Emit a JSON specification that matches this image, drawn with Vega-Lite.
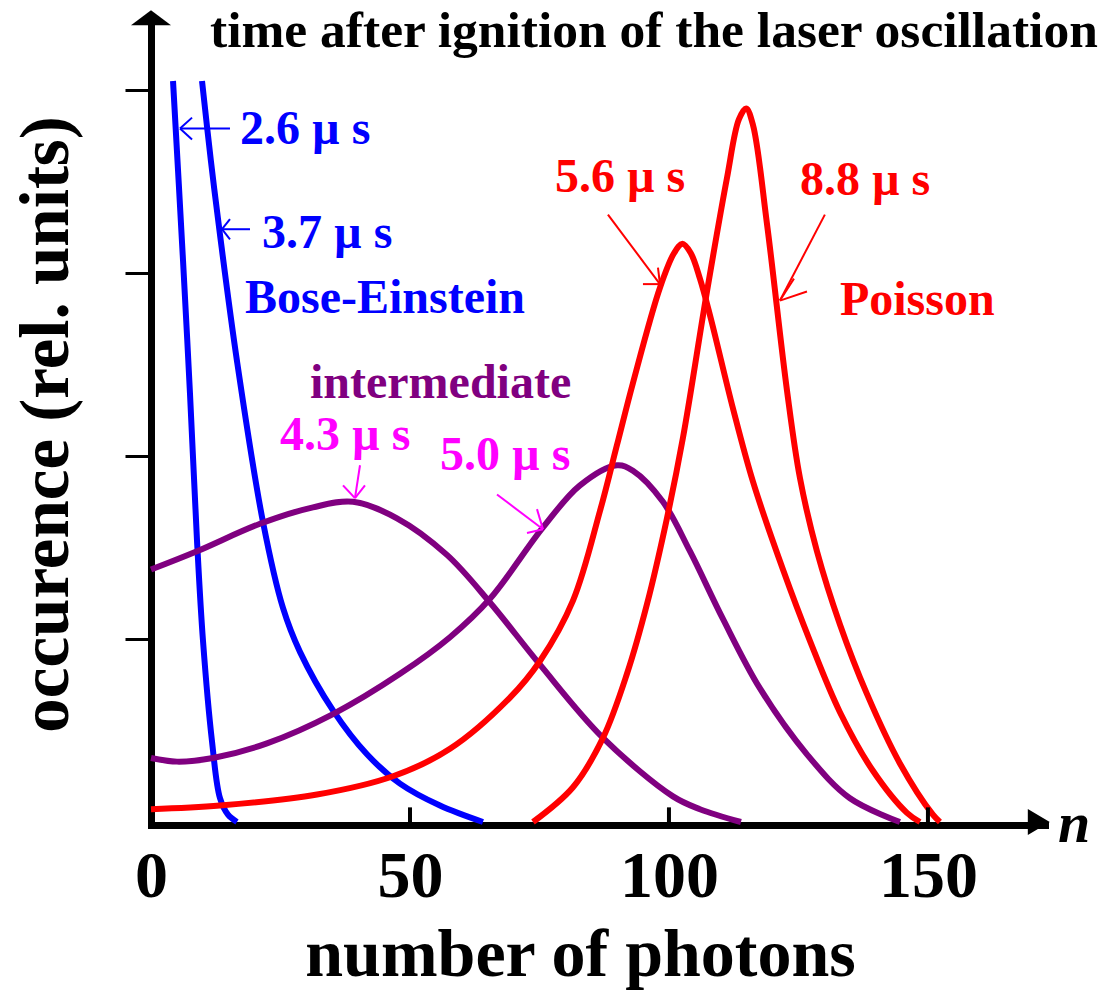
{
  "$schema": "https://vega.github.io/schema/vega-lite/v6.json",
  "width": 894,
  "height": 805,
  "autosize": "none",
  "padding": {"left": 151, "top": 17, "right": 65, "bottom": 171},
  "background": "white",
  "config": {"view": {"stroke": null}, "font": "Liberation Serif"},
  "datasets": {
    "curves": [
      {"series": "b1", "group": "be", "n": 4.25, "v": 4.05},
      {"series": "b1", "group": "be", "n": 6.18, "v": 3.07},
      {"series": "b1", "group": "be", "n": 7.53, "v": 2.34},
      {"series": "b1", "group": "be", "n": 8.88, "v": 1.54},
      {"series": "b1", "group": "be", "n": 10.04, "v": 0.99},
      {"series": "b1", "group": "be", "n": 11.78, "v": 0.44},
      {"series": "b1", "group": "be", "n": 13.32, "v": 0.13},
      {"series": "b1", "group": "be", "n": 14.86, "v": 0.04},
      {"series": "b1", "group": "be", "n": 16.6, "v": 0},
      {"series": "b2", "group": "be", "n": 9.85, "v": 4.05},
      {"series": "b2", "group": "be", "n": 11.58, "v": 3.61},
      {"series": "b2", "group": "be", "n": 13.32, "v": 3.21},
      {"series": "b2", "group": "be", "n": 16.6, "v": 2.52},
      {"series": "b2", "group": "be", "n": 21.62, "v": 1.64},
      {"series": "b2", "group": "be", "n": 25.48, "v": 1.17},
      {"series": "b2", "group": "be", "n": 28.76, "v": 0.93},
      {"series": "b2", "group": "be", "n": 35.14, "v": 0.61},
      {"series": "b2", "group": "be", "n": 41.7, "v": 0.37},
      {"series": "b2", "group": "be", "n": 48.07, "v": 0.21},
      {"series": "b2", "group": "be", "n": 55.79, "v": 0.09},
      {"series": "b2", "group": "be", "n": 64.09, "v": 0},
      {"series": "p1", "group": "int", "n": 0, "v": 1.38},
      {"series": "p1", "group": "int", "n": 8.88, "v": 1.48},
      {"series": "p1", "group": "int", "n": 21.04, "v": 1.63},
      {"series": "p1", "group": "int", "n": 31.27, "v": 1.72},
      {"series": "p1", "group": "int", "n": 39.0, "v": 1.75},
      {"series": "p1", "group": "int", "n": 47.49, "v": 1.66},
      {"series": "p1", "group": "int", "n": 57.14, "v": 1.46},
      {"series": "p1", "group": "int", "n": 65.44, "v": 1.2},
      {"series": "p1", "group": "int", "n": 75.1, "v": 0.86},
      {"series": "p1", "group": "int", "n": 87.26, "v": 0.46},
      {"series": "p1", "group": "int", "n": 100.77, "v": 0.14},
      {"series": "p1", "group": "int", "n": 105.98, "v": 0.07},
      {"series": "p1", "group": "int", "n": 113.9, "v": 0},
      {"series": "p2", "group": "int", "n": 0, "v": 0.35},
      {"series": "p2", "group": "int", "n": 5.02, "v": 0.33},
      {"series": "p2", "group": "int", "n": 11.97, "v": 0.35},
      {"series": "p2", "group": "int", "n": 22.39, "v": 0.43},
      {"series": "p2", "group": "int", "n": 35.14, "v": 0.59},
      {"series": "p2", "group": "int", "n": 48.07, "v": 0.81},
      {"series": "p2", "group": "int", "n": 57.72, "v": 1.01},
      {"series": "p2", "group": "int", "n": 65.44, "v": 1.22},
      {"series": "p2", "group": "int", "n": 75.68, "v": 1.61},
      {"series": "p2", "group": "int", "n": 82.82, "v": 1.84},
      {"series": "p2", "group": "int", "n": 89.96, "v": 1.95},
      {"series": "p2", "group": "int", "n": 93.05, "v": 1.92},
      {"series": "p2", "group": "int", "n": 98.84, "v": 1.75},
      {"series": "p2", "group": "int", "n": 104.05, "v": 1.48},
      {"series": "p2", "group": "int", "n": 110.42, "v": 1.11},
      {"series": "p2", "group": "int", "n": 117.57, "v": 0.73},
      {"series": "p2", "group": "int", "n": 126.64, "v": 0.37},
      {"series": "p2", "group": "int", "n": 134.94, "v": 0.13},
      {"series": "p2", "group": "int", "n": 144.59, "v": 0},
      {"series": "r1", "group": "poi", "n": 0, "v": 0.07},
      {"series": "r1", "group": "poi", "n": 13.32, "v": 0.09},
      {"series": "r1", "group": "poi", "n": 32.05, "v": 0.15},
      {"series": "r1", "group": "poi", "n": 46.72, "v": 0.25},
      {"series": "r1", "group": "poi", "n": 57.72, "v": 0.4},
      {"series": "r1", "group": "poi", "n": 69.31, "v": 0.68},
      {"series": "r1", "group": "poi", "n": 75.1, "v": 0.88},
      {"series": "r1", "group": "poi", "n": 81.47, "v": 1.21},
      {"series": "r1", "group": "poi", "n": 86.68, "v": 1.7},
      {"series": "r1", "group": "poi", "n": 89.96, "v": 2.06},
      {"series": "r1", "group": "poi", "n": 93.05, "v": 2.4},
      {"series": "r1", "group": "poi", "n": 98.26, "v": 2.92},
      {"series": "r1", "group": "poi", "n": 101.0, "v": 3.11},
      {"series": "r1", "group": "poi", "n": 102.6, "v": 3.16},
      {"series": "r1", "group": "poi", "n": 104.2, "v": 3.11},
      {"series": "r1", "group": "poi", "n": 105.98, "v": 2.97},
      {"series": "r1", "group": "poi", "n": 107.92, "v": 2.77},
      {"series": "r1", "group": "poi", "n": 112.36, "v": 2.26},
      {"series": "r1", "group": "poi", "n": 116.22, "v": 1.86},
      {"series": "r1", "group": "poi", "n": 122.01, "v": 1.38},
      {"series": "r1", "group": "poi", "n": 127.22, "v": 0.99},
      {"series": "r1", "group": "poi", "n": 133.01, "v": 0.6},
      {"series": "r1", "group": "poi", "n": 139.38, "v": 0.28},
      {"series": "r1", "group": "poi", "n": 145.95, "v": 0.05},
      {"series": "r1", "group": "poi", "n": 148.46, "v": 0},
      {"series": "r2", "group": "poi", "n": 73.75, "v": 0},
      {"series": "r2", "group": "poi", "n": 81.47, "v": 0.19},
      {"series": "r2", "group": "poi", "n": 87.26, "v": 0.46},
      {"series": "r2", "group": "poi", "n": 91.89, "v": 0.81},
      {"series": "r2", "group": "poi", "n": 95.75, "v": 1.19},
      {"series": "r2", "group": "poi", "n": 99.61, "v": 1.66},
      {"series": "r2", "group": "poi", "n": 102.7, "v": 2.1},
      {"series": "r2", "group": "poi", "n": 107.34, "v": 2.9},
      {"series": "r2", "group": "poi", "n": 111.2, "v": 3.52},
      {"series": "r2", "group": "poi", "n": 113.5, "v": 3.84},
      {"series": "r2", "group": "poi", "n": 114.9, "v": 3.9},
      {"series": "r2", "group": "poi", "n": 116.22, "v": 3.81},
      {"series": "r2", "group": "poi", "n": 118.92, "v": 3.27},
      {"series": "r2", "group": "poi", "n": 122.78, "v": 2.36},
      {"series": "r2", "group": "poi", "n": 125.29, "v": 1.88},
      {"series": "r2", "group": "poi", "n": 128.57, "v": 1.48},
      {"series": "r2", "group": "poi", "n": 133.01, "v": 1.08},
      {"series": "r2", "group": "poi", "n": 138.22, "v": 0.7},
      {"series": "r2", "group": "poi", "n": 144.59, "v": 0.32},
      {"series": "r2", "group": "poi", "n": 150.96, "v": 0.04},
      {"series": "r2", "group": "poi", "n": 152.32, "v": 0}
    ],
    "arrows": [
      {"group": "be", "n": 15.25, "v": 3.79, "n2": 5.6, "v2": 3.79},
      {"group": "be", "n": 5.6, "v": 3.79, "n2": 7.92, "v2": 3.85},
      {"group": "be", "n": 5.6, "v": 3.79, "n2": 7.92, "v2": 3.73},
      {"group": "be", "n": 19.11, "v": 3.24, "n2": 13.71, "v2": 3.24},
      {"group": "be", "n": 13.71, "v": 3.24, "n2": 15.25, "v2": 3.295},
      {"group": "be", "n": 13.71, "v": 3.24, "n2": 15.25, "v2": 3.185},
      {"group": "time", "n": 40.35, "v": 1.95, "n2": 39.38, "v2": 1.77},
      {"group": "time", "n": 39.38, "v": 1.77, "n2": 37.07, "v2": 1.84},
      {"group": "time", "n": 39.38, "v": 1.77, "n2": 41.31, "v2": 1.84},
      {"group": "time", "n": 66.8, "v": 1.79, "n2": 75.68, "v2": 1.6},
      {"group": "time", "n": 75.68, "v": 1.6, "n2": 74.52, "v2": 1.71},
      {"group": "time", "n": 75.68, "v": 1.6, "n2": 72.59, "v2": 1.58},
      {"group": "poi", "n": 88.22, "v": 3.32, "n2": 98.26, "v2": 2.94},
      {"group": "poi", "n": 98.26, "v": 2.94, "n2": 94.98, "v2": 2.94},
      {"group": "poi", "n": 98.26, "v": 2.94, "n2": 97.88, "v2": 3.03},
      {"group": "poi", "n": 130.1, "v": 3.32, "n2": 121.43, "v2": 2.85},
      {"group": "poi", "n": 121.43, "v": 2.85, "n2": 126.64, "v2": 2.9},
      {"group": "poi", "n": 121.43, "v": 2.85, "n2": 124.13, "v2": 2.97}
    ],
    "labels": [
      {"group": "be", "n": 17.18, "v": 3.705, "label": "2.6 µ s"},
      {"group": "be", "n": 21.43, "v": 3.137, "label": "3.7 µ s"},
      {"group": "be", "n": 18.15, "v": 2.781, "label": "Bose-Einstein"},
      {"group": "int", "n": 30.69, "v": 2.317, "label": "intermediate"},
      {"group": "time", "n": 24.9, "v": 2.033, "label": "4.3 µ s"},
      {"group": "time", "n": 55.79, "v": 1.923, "label": "5.0 µ s"},
      {"group": "poi", "n": 77.99, "v": 3.443, "label": "5.6 µ s"},
      {"group": "poi", "n": 125.29, "v": 3.426, "label": "8.8 µ s"},
      {"group": "poi", "n": 133.01, "v": 2.77, "label": "Poisson"}
    ],
    "title": [
      {"n": 11.39, "v": 4.235, "label": "time after ignition of the laser oscillation"}
    ],
    "axisname": [
      {"n": 175.1, "v": -0.11, "label": "n"}
    ],
    "xticks": [
      {"n": 50, "v": 0, "v2": 0.08},
      {"n": 100, "v": 0, "v2": 0.08},
      {"n": 150, "v": 0, "v2": 0.08}
    ],
    "yarrow": [{"n": 0, "v": 4.396}],
    "xarrow": [{"n": 171.4, "v": 0}]
  },
  "layer": [
    {
      "data": {"name": "curves"},
      "mark": {"type": "line", "strokeWidth": 6, "interpolate": "catmull-rom"},
      "encoding": {
        "x": {
          "field": "n", "type": "quantitative",
          "scale": {"domain": [0, 172.6], "nice": false, "zero": false},
          "axis": {
            "values": [0, 50, 100, 150], "format": "d",
            "ticks": false, "tickSize": 0, "grid": false,
            "domain": true, "domainColor": "black", "domainWidth": 7, "domainCap": "square",
            "offset": 3,
            "labelFont": "Liberation Serif", "labelFontWeight": "bold", "labelFontSize": 66,
            "labelColor": "black", "labelPadding": 19, "labelFlush": false, "labelOverlap": false,
            "title": "number of photons",
            "titleFont": "Liberation Serif", "titleFontWeight": "bold", "titleFontSize": 68,
            "titleColor": "black", "titleX": 429, "titleY": 150,
            "titleAlign": "center", "titleBaseline": "alphabetic"
          }
        },
        "y": {
          "field": "v", "type": "quantitative",
          "scale": {"domain": [0, 4.4], "nice": false},
          "axis": {
            "values": [1, 2, 3, 4], "labels": false,
            "ticks": true, "tickSize": 26, "tickWidth": 3, "tickColor": "black",
            "grid": false,
            "domain": true, "domainColor": "black", "domainWidth": 7, "domainCap": "square",
            "title": "occurence (rel. units)",
            "titleFont": "Liberation Serif", "titleFontWeight": "bold", "titleFontSize": 69,
            "titleColor": "black", "titleAngle": -90, "titleX": -84, "titleY": 407,
            "titleAlign": "center", "titleBaseline": "alphabetic"
          }
        },
        "detail": {"field": "series"},
        "color": {
          "field": "group", "type": "nominal",
          "scale": {"domain": ["be", "int", "poi", "time", "ax"], "range": ["#0000ff", "#800080", "#ff0000", "#ff00ff", "#000000"]},
          "legend": null
        }
      }
    },
    {
      "data": {"name": "arrows"},
      "mark": {"type": "rule", "strokeWidth": 2},
      "encoding": {
        "x": {"field": "n", "type": "quantitative"},
        "y": {"field": "v", "type": "quantitative"},
        "x2": {"field": "n2"},
        "y2": {"field": "v2"},
        "color": {"field": "group", "type": "nominal", "legend": null}
      }
    },
    {
      "data": {"name": "labels"},
      "mark": {"type": "text", "align": "left", "baseline": "alphabetic", "font": "Liberation Serif", "fontWeight": "bold", "fontSize": 48},
      "encoding": {
        "x": {"field": "n", "type": "quantitative"},
        "y": {"field": "v", "type": "quantitative"},
        "text": {"field": "label"},
        "color": {"field": "group", "type": "nominal", "legend": null}
      }
    },
    {
      "data": {"name": "title"},
      "mark": {"type": "text", "align": "left", "baseline": "alphabetic", "font": "Liberation Serif", "fontWeight": "bold", "fontSize": 51.5, "color": "black"},
      "encoding": {
        "x": {"field": "n", "type": "quantitative"},
        "y": {"field": "v", "type": "quantitative"},
        "text": {"field": "label"}
      }
    },
    {
      "data": {"name": "axisname"},
      "mark": {"type": "text", "align": "left", "baseline": "alphabetic", "font": "Liberation Serif", "fontWeight": "bold", "fontStyle": "italic", "fontSize": 58, "color": "black"},
      "encoding": {
        "x": {"field": "n", "type": "quantitative"},
        "y": {"field": "v", "type": "quantitative"},
        "text": {"field": "label"}
      }
    },
    {
      "data": {"name": "xticks"},
      "mark": {"type": "rule", "strokeWidth": 4, "color": "black"},
      "encoding": {
        "x": {"field": "n", "type": "quantitative"},
        "y": {"field": "v", "type": "quantitative"},
        "y2": {"field": "v2"}
      }
    },
    {
      "data": {"name": "yarrow"},
      "mark": {"type": "point", "shape": "M -2 0.75 L 0 -0.75 L 2 0.75 Z", "size": 400, "filled": true, "color": "black", "opacity": 1, "strokeWidth": 0},
      "encoding": {
        "x": {"field": "n", "type": "quantitative"},
        "y": {"field": "v", "type": "quantitative"}
      }
    },
    {
      "data": {"name": "xarrow"},
      "mark": {"type": "point", "shape": "M -1.1 -1.3 L 1.1 0 L -1.1 1.3 Z", "size": 400, "filled": true, "color": "black", "opacity": 1, "strokeWidth": 0},
      "encoding": {
        "x": {"field": "n", "type": "quantitative"},
        "y": {"field": "v", "type": "quantitative"}
      }
    }
  ]
}
